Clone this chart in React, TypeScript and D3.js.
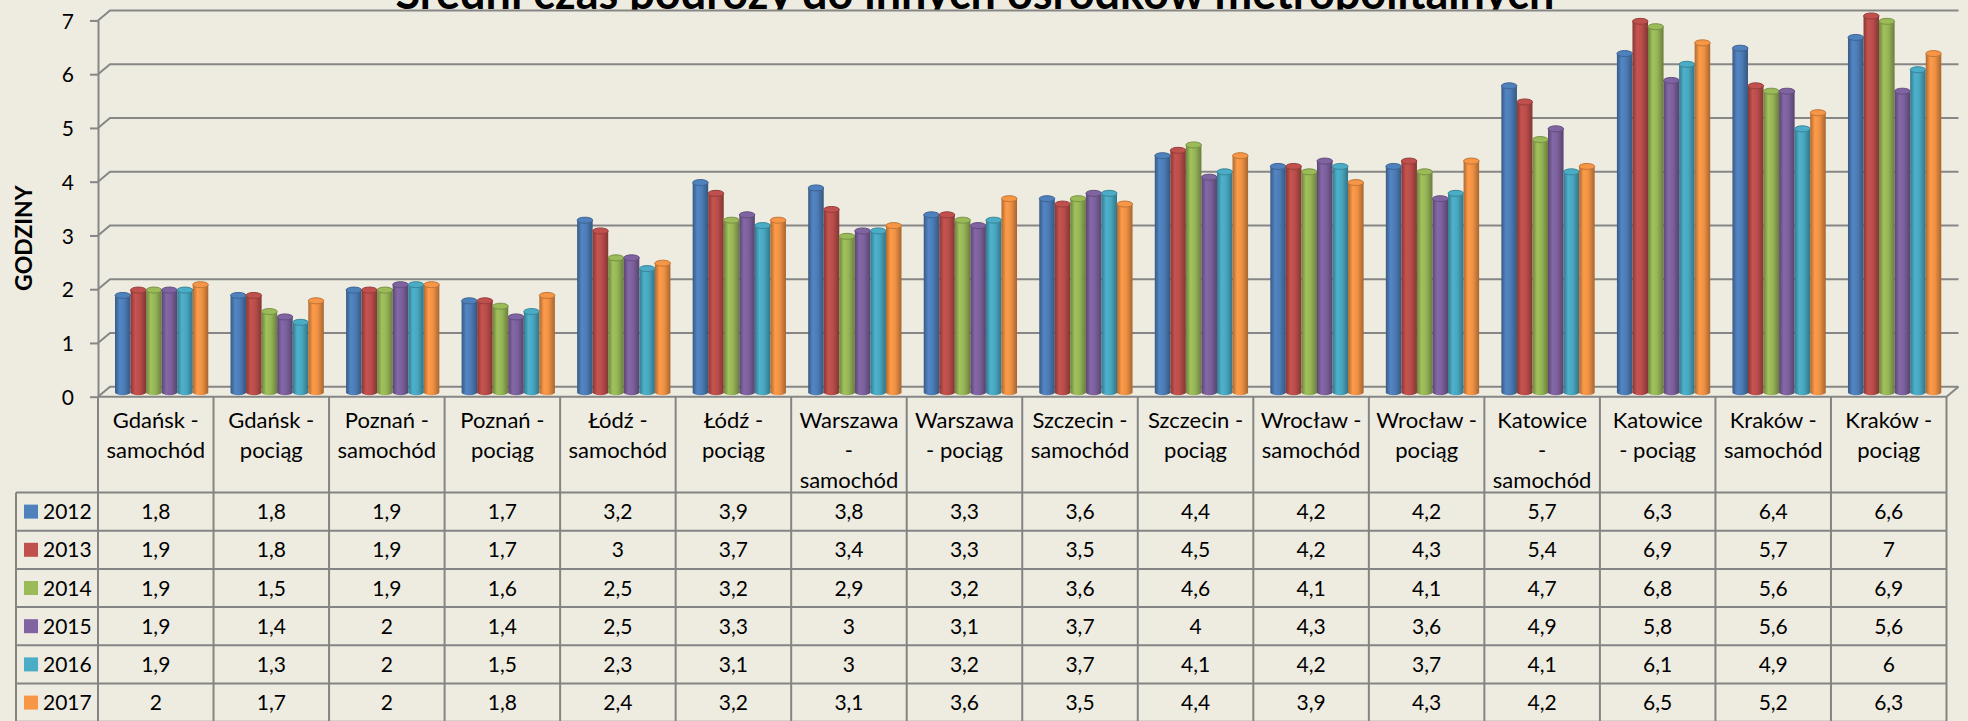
import React, { useEffect, useRef } from 'react';
import * as d3 from 'd3';

// chart data
const categories = [
  'Gdańsk - samochód', 'Gdańsk - pociąg', 'Poznań - samochód', 'Poznań - pociąg',
  'Łódź - samochód', 'Łódź - pociąg', 'Warszawa - samochód', 'Warszawa - pociąg',
  'Szczecin - samochód', 'Szczecin - pociąg', 'Wrocław - samochód', 'Wrocław - pociąg',
  'Katowice - samochód', 'Katowice - pociąg', 'Kraków - samochód', 'Kraków - pociąg',
];
// header text as wrapped in the table cells
const categoryLabels = [
  'Gdańsk -\nsamochód', 'Gdańsk -\npociąg', 'Poznań -\nsamochód', 'Poznań -\npociąg',
  'Łódź -\nsamochód', 'Łódź -\npociąg', 'Warszawa\n-\nsamochód', 'Warszawa\n- pociąg',
  'Szczecin -\nsamochód', 'Szczecin -\npociąg', 'Wrocław -\nsamochód', 'Wrocław -\npociąg',
  'Katowice\n-\nsamochód', 'Katowice\n- pociąg', 'Kraków -\nsamochód', 'Kraków -\npociąg',
];
const years = ['2012', '2013', '2014', '2015', '2016', '2017'];
const values2012 = [1.8, 1.8, 1.9, 1.7, 3.2, 3.9, 3.8, 3.3, 3.6, 4.4, 4.2, 4.2, 5.7, 6.3, 6.4, 6.6];
const values2013 = [1.9, 1.8, 1.9, 1.7, 3, 3.7, 3.4, 3.3, 3.5, 4.5, 4.2, 4.3, 5.4, 6.9, 5.7, 7];
const values2014 = [1.9, 1.5, 1.9, 1.6, 2.5, 3.2, 2.9, 3.2, 3.6, 4.6, 4.1, 4.1, 4.7, 6.8, 5.6, 6.9];
const values2015 = [1.9, 1.4, 2, 1.4, 2.5, 3.3, 3, 3.1, 3.7, 4, 4.3, 3.6, 4.9, 5.8, 5.6, 5.6];
const values2016 = [1.9, 1.3, 2, 1.5, 2.3, 3.1, 3, 3.2, 3.7, 4.1, 4.2, 3.7, 4.1, 6.1, 4.9, 6];
const values2017 = [2, 1.7, 2, 1.8, 2.4, 3.2, 3.1, 3.6, 3.5, 4.4, 3.9, 4.3, 4.2, 6.5, 5.2, 6.3];
const seriesValues = [values2012, values2013, values2014, values2015, values2016, values2017];
const colors = ['#4F81BD', '#C0504D', '#9BBB59', '#8064A2', '#4BACC6', '#F79646'];
const yTicks = [0, 1, 2, 3, 4, 5, 6, 7];
const title = 'Średni czas podróży do innych ośrodków metropolitalnych';
const yLabel = 'GODZINY';

const W = 1968;
const H = 721;
const FONT = 'Lato, "Open Sans", sans-serif';

const fmt = (v: number) => String(v).replace('.', ',');

const App = () => {
  const ref = useRef<SVGSVGElement>(null);

  useEffect(() => {
    const svg = d3.select(ref.current);
    svg.selectAll('*').remove();

    const x0 = 98;
    const xEnd = 1946.5;
    const dx = 12; // depth of the 3d walls
    const dy = -10;
    const gridColor = '#868686';

    const y = d3.scaleLinear().domain([0, 7]).range([396.7, 20.45]);
    const x = d3.scaleBand().domain(categories).range([x0, xEnd]);
    const inner = d3.scaleBand().domain(years).range([17, 17 + 93.3]);

    svg.append('rect').attr('width', W).attr('height', H).attr('fill', '#EEECE1');

    const defs = svg.append('defs');
    defs.append('clipPath').attr('id', 'titleClip')
      .append('rect').attr('x', 0).attr('y', -100).attr('width', W).attr('height', 110);

    colors.forEach((c, i) => {
      const g = defs.append('linearGradient').attr('id', `cyl${i}`)
        .attr('x1', 0).attr('x2', 1).attr('y1', 0).attr('y2', 0);
      const base = d3.color(c)!;
      g.append('stop').attr('offset', 0).attr('stop-color', base.darker(1).formatHex());
      g.append('stop').attr('offset', 0.3).attr('stop-color', base.brighter(0.1).formatHex());
      g.append('stop').attr('offset', 0.6).attr('stop-color', base.darker(0.1).formatHex());
      g.append('stop').attr('offset', 1).attr('stop-color', base.darker(1.1).formatHex());
    });

    // title, clipped by the plot area
    svg.append('text')
      .attr('x', 975).attr('y', 9)
      .attr('text-anchor', 'middle')
      .attr('clip-path', 'url(#titleClip)')
      .attr('font-family', FONT).attr('font-weight', 'bold').attr('font-size', 45)
      .attr('fill', '#000')
      .text(title);

    // back wall gridlines with depth diagonals
    const grid = svg.append('g').attr('fill', 'none').attr('stroke', gridColor).attr('stroke-width', 2);
    yTicks.forEach(t => {
      grid.append('path')
        .attr('d', `M${x0},${y(t)}L${x0 + dx},${y(t) + dy}H${xEnd + dx}`);
    });
    // floor front edge
    grid.append('path')
      .attr('d', `M${x0},${y(0)}H${xEnd}L${xEnd + dx},${y(0) + dy}`);

    // y axis
    const axis = svg.append('g')
      .attr('transform', `translate(${x0},0)`)
      .call(d3.axisLeft(y).tickValues(yTicks).tickSize(8).tickSizeOuter(0).tickPadding(16).tickFormat(d => fmt(+d)));
    axis.select('.domain').attr('stroke', gridColor).attr('stroke-width', 2);
    axis.selectAll('.tick line').attr('stroke', gridColor).attr('stroke-width', 2);
    axis.selectAll('.tick text')
      .attr('font-family', FONT).attr('font-size', 21).attr('fill', '#000').attr('dy', '0.36em');

    svg.append('text')
      .attr('transform', `translate(23,${y(2.95)}) rotate(-90)`)
      .attr('text-anchor', 'middle')
      .attr('dominant-baseline', 'central')
      .attr('font-family', FONT).attr('font-weight', 'bold').attr('font-size', 23)
      .attr('fill', '#000')
      .text(yLabel);

    // cylinders
    const w = inner.bandwidth();
    const ry = 3;
    const baseY = y(0) + dy * 0.45;
    const bars = svg.append('g');
    categories.forEach((cat, ci) => {
      years.forEach((yr, si) => {
        const v = seriesValues[si][ci];
        const bx = x(cat)! + inner(yr)!;
        const top = y(v) + dy * 0.45;
        const base = d3.color(colors[si])!;
        bars.append('path')
          .attr('d', `M${bx},${top}V${baseY}A${w / 2},${ry} 0 0 0 ${bx + w},${baseY}V${top}Z`)
          .attr('fill', `url(#cyl${si})`);
        bars.append('ellipse')
          .attr('cx', bx + w / 2).attr('cy', top).attr('rx', w / 2).attr('ry', ry)
          .attr('fill', base.formatHex())
          .attr('stroke', base.darker(0.7).formatHex()).attr('stroke-width', 1);
      });
    });

    // data table
    const headTop = y(0);
    const headBottom = 492.5;
    const rowH = 38.2;
    const tableLeft = 16;
    const tBottom = headBottom + rowH * years.length;
    const table = svg.append('g').attr('stroke', '#848484').attr('stroke-width', 2).attr('fill', 'none');
    [...categories.map(c => x(c)!), xEnd].forEach(cx => {
      table.append('line').attr('x1', cx).attr('x2', cx).attr('y1', headTop).attr('y2', tBottom);
    });
    table.append('line').attr('x1', tableLeft).attr('x2', tableLeft).attr('y1', headBottom).attr('y2', tBottom);
    d3.range(years.length + 1).forEach(k => {
      const ly = headBottom + k * rowH;
      table.append('line').attr('x1', tableLeft).attr('x2', xEnd).attr('y1', ly).attr('y2', ly);
    });

    const header = svg.append('g')
      .attr('font-family', FONT).attr('font-size', 22).attr('fill', '#000').attr('text-anchor', 'middle');
    categories.forEach((cat, ci) => {
      const cx = x(cat)! + x.bandwidth() / 2;
      categoryLabels[ci].split('\n').forEach((ln, li) => {
        header.append('text').attr('x', cx).attr('y', headTop + 31.3 + li * 30).text(ln);
      });
    });

    const cells = svg.append('g')
      .attr('font-family', FONT).attr('font-size', 21).attr('fill', '#000');
    years.forEach((yr, si) => {
      const rowMid = headBottom + si * rowH + rowH / 2;
      cells.append('rect')
        .attr('x', 24).attr('y', rowMid - 7).attr('width', 14).attr('height', 14)
        .attr('fill', colors[si]);
      cells.append('text').attr('x', 43).attr('y', rowMid + 7.5).text(yr);
      categories.forEach((cat, ci) => {
        cells.append('text')
          .attr('x', x(cat)! + x.bandwidth() / 2)
          .attr('y', rowMid + 7.5)
          .attr('text-anchor', 'middle')
          .text(fmt(seriesValues[si][ci]));
      });
    });

    return () => {
      svg.selectAll('*').remove();
    };
  }, []);

  return (
    <svg
      ref={ref}
      width={W}
      height={H}
      style={{ position: 'absolute', left: 0, top: 0, display: 'block' }}
    />
  );
};

export default App;
